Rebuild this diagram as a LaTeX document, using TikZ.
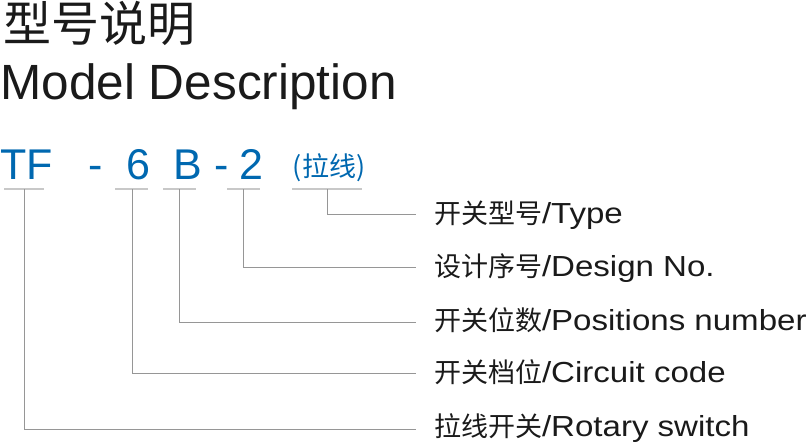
\documentclass[tikz,border=0pt]{standalone}
\usepackage{fontspec}
\setmainfont{Liberation Sans}
\newfontfamily\cjk{Noto Sans CJK SC}
\newfontfamily\labfont[FakeStretch=1.14]{Liberation Sans}
\definecolor{tfblue}{RGB}{0,104,176}
\definecolor{txt}{RGB}{26,26,26}
\definecolor{ulgray}{RGB}{200,200,200}
\definecolor{cngray}{RGB}{150,150,150}
\newcommand{\labcjk}[1]{{\cjk\fontsize{27}{27}\selectfont #1}}
\begin{document}
\begin{tikzpicture}[x=1pt,y=-1pt,
  every node/.style={inner sep=0pt,outer sep=0pt},
  title/.style={anchor=base west,text=txt},
  code/.style={anchor=base,text=tfblue,font=\fontsize{43}{43}\selectfont},
  lab/.style={anchor=base west,text=txt,font=\labfont\fontsize{29}{29}\selectfont},
  uline/.style={draw=ulgray,line width=1.4pt},
  conn/.style={draw=cngray,line width=1pt}]
\useasboundingbox (0,0) rectangle (806,442);
% titles
\node[title,font=\cjk\fontsize{48}{48}\selectfont] (t1) at (4,41) {型号说明};
\node[title,font=\fontsize{49.5}{49.5}\selectfont] (t2) at (0.5,99) {Model Description};
% code
\node[code,anchor=base west] (cTF) at (0.7,179) {TF};
\node[code] (cd1) at (95.5,179) {-};
\node[code] (c6) at (138,179) {6};
\node[code] (cB) at (188,179) {B};
\node[code] (cd2) at (221.5,179) {-};
\node[code] (c2) at (251.5,179) {2};
\node[code,font=\cjk\fontsize{27}{27}\selectfont] (cL) at (329,176) {(拉线)};
% underlines
\coordinate (uTFa) at (4,189); \coordinate (uTFb) at (44,189);
\coordinate (u6a) at (115,189); \coordinate (u6b) at (148,189);
\coordinate (uBa) at (163,189); \coordinate (uBb) at (196,189);
\coordinate (u2a) at (227,189); \coordinate (u2b) at (260,189);
\coordinate (uLa) at (292,189); \coordinate (uLb) at (362,189);
\draw[uline] (uTFa) -- (uTFb);
\draw[uline] (u6a) -- (u6b);
\draw[uline] (uBa) -- (uBb);
\draw[uline] (u2a) -- (u2b);
\draw[uline] (uLa) -- (uLb);
% labels
\node[lab] (l1) at (434,223) {\labcjk{开关型号}/Type};
\node[lab] (l2) at (434,276) {\labcjk{设计序号}/Design No.};
\node[lab] (l3) at (434,330) {\labcjk{开关位数}/Positions number};
\node[lab] (l4) at (434,382) {\labcjk{开关档位}/Circuit code};
\node[lab] (l5) at (434,436) {\labcjk{拉线开关}/Rotary switch};
% connector ends
\coordinate (sL) at (327,189); \coordinate (eL) at (416,214);
\coordinate (s2) at (243,189); \coordinate (e2) at (416,267);
\coordinate (sB) at (179,189); \coordinate (eB) at (416,322);
\coordinate (s6) at (132,189); \coordinate (e6) at (416,373);
\coordinate (sTF) at (24,189); \coordinate (eTF) at (416,429);
\draw[conn] (sL) |- (eL);
\draw[conn] (s2) |- (e2);
\draw[conn] (sB) |- (eB);
\draw[conn] (s6) |- (e6);
\draw[conn] (sTF) |- (eTF);
\end{tikzpicture}
\end{document}
